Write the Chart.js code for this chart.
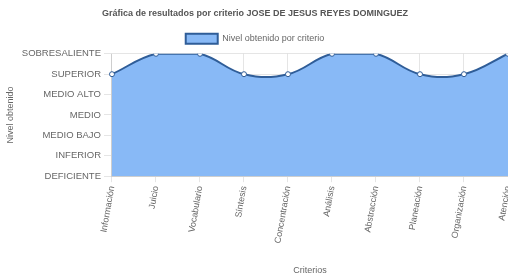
<!DOCTYPE html>
<html>
<head>
<meta charset="utf-8">
<script src="https://cdn.jsdelivr.net/npm/chart.js@4.4.0/dist/chart.umd.min.js"></script>
<style>
  html, body { margin: 0; padding: 0; background: #fff; }
  #wrap { width: 508px; height: 278px; }
</style>
</head>
<body>
<div id="wrap"><canvas id="grafica"></canvas></div>
<script>
// niveles (eje y), de abajo hacia arriba
const niveles = ['DEFICIENTE', 'INFERIOR', 'MEDIO BAJO', 'MEDIO', 'MEDIO ALTO', 'SUPERIOR', 'SOBRESALIENTE'];
const criterios = ['Información', 'Juicio', 'Vocabulario', 'Síntesis', 'Concentración', 'Análisis', 'Abstracción', 'Planeación', 'Organización', 'Atención'];
const resultados = ['SUPERIOR', 'SOBRESALIENTE', 'SOBRESALIENTE', 'SUPERIOR', 'SUPERIOR', 'SOBRESALIENTE', 'SOBRESALIENTE', 'SUPERIOR', 'SUPERIOR', 'SOBRESALIENTE'];

Chart.defaults.font.family = "'Liberation Sans', Arial, sans-serif";
Chart.defaults.color = '#666';

let ctx = document.getElementById('grafica');
var chart = new Chart(ctx, {
    type: 'line',
    data: {
        labels: criterios,
        datasets: [
            {
                label: 'Nivel obtenido por criterio',
                data: resultados.map(r => niveles.indexOf(r)),
                fill: 'origin',
                backgroundColor: 'rgba(136, 185, 246, 1)',
                borderColor: '#2f5d98',
                borderWidth: 2,
                tension: 0.4,
                pointRadius: 2.5,
                pointBackgroundColor: '#fff',
                pointBorderColor: '#2f5d98',
                pointBorderWidth: 1
            }
        ]
    },
    options: {
        responsive: true,
        maintainAspectRatio: false,
        animation: false,
        layout: { autoPadding: false, padding: { left: 2, right: 0, top: 0, bottom: 0 } },
        scales: {
            y: {
                min: 0,
                max: 6,
                ticks: {
                    stepSize: 1,
                    font: { size: 9.5 },
                    callback: v => niveles[v]
                },
                grid: { color: 'rgba(0,0,0,0.1)', tickLength: 8 },
                title: {
                    display: true,
                    text: 'Nivel obtenido',
                    font: { size: 9 },
                    padding: 3
                }
            },
            x: {
                // the last label may hang past the edge, like the original
                afterFit: s => { s.paddingRight = 0; },
                ticks: {
                    font: { size: 9 },
                    minRotation: 80,
                    maxRotation: 80
                },
                grid: { color: 'rgba(0,0,0,0.1)', tickLength: 6 },
                title: {
                    display: true,
                    text: 'Criterios',
                    font: { size: 9 },
                    padding: { top: 18, bottom: 2 }
                }
            }
        },
        plugins: {
            title: {
                display: true,
                text: 'Gráfica de resultados por criterio JOSE DE JESUS REYES DOMINGUEZ',
                font: { size: 9, weight: 'bold' },
                color: '#555',
                padding: { top: 8, bottom: 13 }
            },
            legend: {
                labels: {
                    boxWidth: 32,
                    boxHeight: 10,
                    padding: 2,
                    font: { size: 9 }
                }
            },
            tooltip: { enabled: false }
        }
    }
});
</script>
</body>
</html>
